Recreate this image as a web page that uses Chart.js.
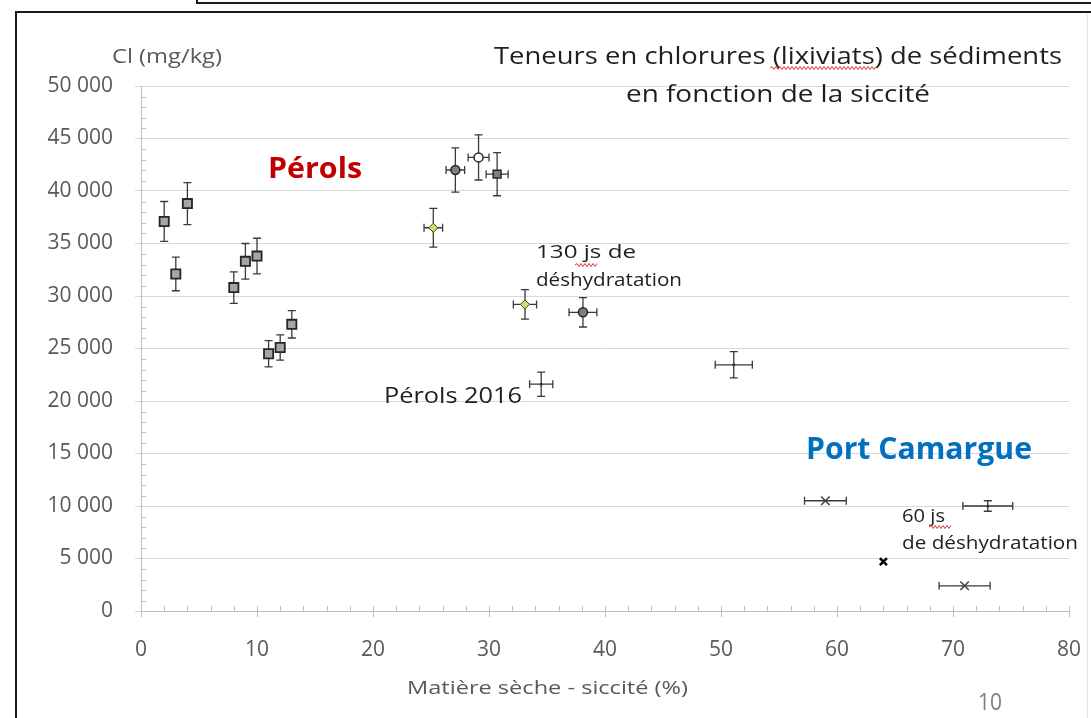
<!DOCTYPE html>
<html>
<head>
<meta charset="utf-8">
<script src="https://cdn.jsdelivr.net/npm/chart.js@4.4.1/dist/chart.umd.min.js"></script>
<style>
  html, body { margin: 0; padding: 0; background: #fff; }
  canvas { display: block; }
</style>
</head>
<body>
<canvas id="chart" width="1091" height="718" style="width:1091px;height:718px"></canvas>
<script>
// ticks
const xTicks = [0, 10, 20, 30, 40, 50, 60, 70, 80];
const yTicks = [0, 5000, 10000, 15000, 20000, 25000, 30000, 35000, 40000, 45000, 50000];

// Pérols (carrés gris)
const perolsX = [2, 3, 4, 8, 9, 10, 11, 12, 13];
const perolsY = [37100, 32100, 38800, 30800, 33300, 33800, 24500, 25100, 27300];
const perolsErrY = [1900, 1600, 2000, 1500, 1700, 1700, 1250, 1200, 1300];

// cercles gris
const circleX = [27.1, 38.1];
const circleY = [42000, 28450];
const circleErrX = [0.8, 1.2];
const circleErrY = [2100, 1400];

// cercle blanc
const whiteX = [29.1];
const whiteY = [43200];
const whiteErrX = [0.9];
const whiteErrY = [2150];

// carré foncé
const darkSqX = [30.7];
const darkSqY = [41600];
const darkSqErrX = [0.95];
const darkSqErrY = [2050];

// losanges jaunes
const diamondX = [25.2, 33.1];
const diamondY = [36500, 29200];
const diamondErrX = [0.8, 1.0];
const diamondErrY = [1850, 1400];

// Pérols 2016 et autres (barres seules)
const plusX = [34.5, 51.1, 73.0];
const plusY = [21600, 23450, 10000];
const plusErrX = [1.0, 1.6, 2.15];
const plusErrY = [1150, 1250, 500];

// Port Camargue (croix)
const crossX = [59, 71];
const crossY = [10500, 2400];
const crossErrX = [1.8, 2.2];
const crossErrY = [0, 0];

const boldCrossX = [64];
const boldCrossY = [4700];

const pts = (xs, ys) => xs.map((x, i) => ({ x: x, y: ys[i] }));
const zeros = n => new Array(n).fill(0);

const fmt = v => String(v).replace(/\B(?=(\d{3})+(?!\d))/g, ' ');

// barres d'erreur
const errorBars = {
    id: 'errorBars',
    beforeDatasetsDraw(chart) {
        const ctx = chart.ctx;
        const xs = chart.scales.x, ys = chart.scales.y;
        ctx.save();
        ctx.strokeStyle = '#3a3a3a';
        ctx.lineWidth = 1.3;
        chart.data.datasets.forEach(ds => {
            ds.data.forEach((p, i) => {
                const px = xs.getPixelForValue(p.x);
                const py = ys.getPixelForValue(p.y);
                const ex = ds.errX ? ds.errX[i] : 0;
                const ey = ds.errY ? ds.errY[i] : 0;
                ctx.beginPath();
                if (ey > 0) {
                    const y1 = ys.getPixelForValue(p.y - ey);
                    const y2 = ys.getPixelForValue(p.y + ey);
                    ctx.moveTo(px, y1); ctx.lineTo(px, y2);
                    ctx.moveTo(px - 4, y1); ctx.lineTo(px + 4, y1);
                    ctx.moveTo(px - 4, y2); ctx.lineTo(px + 4, y2);
                }
                if (ex > 0) {
                    const x1 = xs.getPixelForValue(p.x - ex);
                    const x2 = xs.getPixelForValue(p.x + ex);
                    ctx.moveTo(x1, py); ctx.lineTo(x2, py);
                    ctx.moveTo(x1, py - 4); ctx.lineTo(x1, py + 4);
                    ctx.moveTo(x2, py - 4); ctx.lineTo(x2, py + 4);
                }
                ctx.stroke();
            });
        });
        ctx.restore();
    }
};

// petits traits des axes
const minorTicks = {
    id: 'minorTicks',
    afterDraw(chart) {
        const ctx = chart.ctx;
        const xs = chart.scales.x, ys = chart.scales.y;
        const a = chart.chartArea;
        ctx.save();
        ctx.strokeStyle = '#bfbfbf';
        ctx.lineWidth = 1;
        ctx.beginPath();
        for (let v = 1000; v < 50000; v += 1000) {
            if (v % 5000 === 0) continue;
            const y = Math.round(ys.getPixelForValue(v)) + 0.5;
            ctx.moveTo(a.left, y); ctx.lineTo(a.left + 5, y);
        }
        for (let v = 2; v < 80; v += 2) {
            if (v % 10 === 0) continue;
            const x = Math.round(xs.getPixelForValue(v)) + 0.5;
            ctx.moveTo(x, a.bottom); ctx.lineTo(x, a.bottom - 5);
        }
        xTicks.forEach(v => {
            const x = Math.round(xs.getPixelForValue(v)) + 0.5;
            ctx.moveTo(x, a.bottom); ctx.lineTo(x, a.bottom - 5);
        });
        ctx.stroke();
        ctx.restore();
    }
};

function drawFit(ctx, str, x0, x1, yc, size, weight, color) {
    ctx.save();
    ctx.font = weight + ' ' + size + 'px "Open Sans"';
    ctx.fillStyle = color;
    ctx.textBaseline = 'middle';
    const w = ctx.measureText(str).width;
    ctx.translate(x0, yc);
    ctx.scale((x1 - x0) / w, 1);
    ctx.fillText(str, 0, 0);
    ctx.restore();
}

function wavy(ctx, x0, x1, y) {
    ctx.save();
    ctx.strokeStyle = '#e03030';
    ctx.lineWidth = 1;
    ctx.beginPath();
    ctx.moveTo(x0, y);
    let up = true;
    for (let x = x0 + 2; x <= x1; x += 2) {
        ctx.lineTo(x, y + (up ? -1.5 : 1.5));
        up = !up;
    }
    ctx.stroke();
    ctx.restore();
}

// cadre + textes
const decor = {
    id: 'decor',
    beforeDraw(chart) {
        const ctx = chart.ctx;
        ctx.save();
        ctx.fillStyle = '#fff';
        ctx.fillRect(0, 0, chart.width, chart.height);
        ctx.strokeStyle = '#1a1a1a';
        ctx.lineWidth = 2;
        ctx.beginPath();
        ctx.moveTo(197, 0); ctx.lineTo(197, 3); ctx.lineTo(1091, 3);
        ctx.moveTo(16, 718); ctx.lineTo(16, 12); ctx.lineTo(1091, 12);
        ctx.stroke();
        ctx.strokeStyle = '#e6e6e6';
        ctx.lineWidth = 1;
        ctx.beginPath();
        ctx.moveTo(1087.5, 14); ctx.lineTo(1087.5, 718);
        ctx.stroke();
        ctx.restore();
    },
    afterDraw(chart) {
        const ctx = chart.ctx;
        drawFit(ctx, 'Cl (mg/kg)', 112, 222, 57, 20, 'normal', '#595959');
        drawFit(ctx, 'Teneurs en chlorures (lixiviats) de sédiments', 494, 1062, 57, 23, 'normal', '#1f1f1f');
        drawFit(ctx, 'en fonction de la siccité', 626, 930, 95, 23, 'normal', '#1f1f1f');
        wavy(ctx, 770, 876, 68);
        drawFit(ctx, 'Pérols', 268, 362, 170, 29, 'bold', '#c00000');
        drawFit(ctx, '130 js de', 536, 636, 253, 19, 'normal', '#1f1f1f');
        drawFit(ctx, 'déshydratation', 536, 682, 281, 19, 'normal', '#1f1f1f');
        wavy(ctx, 575, 597, 265);
        drawFit(ctx, 'Pérols 2016', 384, 522, 397, 22, 'normal', '#1f1f1f');
        drawFit(ctx, 'Port Camargue', 806, 1032, 450, 30, 'bold', '#0070c0');
        drawFit(ctx, '60 js', 902, 945, 517, 19, 'normal', '#1f1f1f');
        drawFit(ctx, 'de déshydratation', 902, 1078, 544, 19, 'normal', '#1f1f1f');
        wavy(ctx, 929, 952, 527);
        drawFit(ctx, 'Matière sèche - siccité (%)', 407, 688, 689, 19, 'normal', '#595959');
        drawFit(ctx, '10', 978, 1002, 703, 24, 'normal', '#7f7f7f');
    }
};

const ctx = document.getElementById('chart').getContext('2d');

const chart = new Chart(ctx, {
    type: 'scatter',
    data: {
        datasets: [
            {
                label: 'Pérols',
                data: pts(perolsX, perolsY),
                errX: zeros(perolsX.length),
                errY: perolsErrY,
                pointStyle: 'rect',
                pointRadius: 6.5,
                backgroundColor: '#a6a6a6',
                borderColor: '#262626',
                borderWidth: 1.8
            },
            {
                label: 'cercles',
                data: pts(circleX, circleY),
                errX: circleErrX,
                errY: circleErrY,
                pointStyle: 'circle',
                pointRadius: 4.5,
                backgroundColor: '#7f7f7f',
                borderColor: '#262626',
                borderWidth: 1.5
            },
            {
                label: 'cercle blanc',
                data: pts(whiteX, whiteY),
                errX: whiteErrX,
                errY: whiteErrY,
                pointStyle: 'circle',
                pointRadius: 4.5,
                backgroundColor: '#ffffff',
                borderColor: '#262626',
                borderWidth: 1.5
            },
            {
                label: 'carré foncé',
                data: pts(darkSqX, darkSqY),
                errX: darkSqErrX,
                errY: darkSqErrY,
                pointStyle: 'rect',
                pointRadius: 5.5,
                backgroundColor: '#808080',
                borderColor: '#262626',
                borderWidth: 1.5
            },
            {
                label: 'losanges',
                data: pts(diamondX, diamondY),
                errX: diamondErrX,
                errY: diamondErrY,
                pointStyle: 'rectRot',
                pointRadius: 4.5,
                backgroundColor: '#d7e05a',
                borderColor: '#404040',
                borderWidth: 1
            },
            {
                label: 'barres',
                data: pts(plusX, plusY),
                errX: plusErrX,
                errY: plusErrY,
                pointRadius: 1.5,
                backgroundColor: '#333333',
                borderColor: '#333333',
                borderWidth: 0
            },
            {
                label: 'Port Camargue',
                data: pts(crossX, crossY),
                errX: crossErrX,
                errY: crossErrY,
                pointStyle: 'crossRot',
                pointRadius: 6,
                borderColor: '#404040',
                borderWidth: 1.5
            },
            {
                label: 'Port Camargue 2',
                data: pts(boldCrossX, boldCrossY),
                pointStyle: 'crossRot',
                pointRadius: 5,
                borderColor: '#000000',
                borderWidth: 2.5
            }
        ]
    },
    options: {
        responsive: false,
        animation: false,
        layout: { padding: { top: 86, right: 22, left: 0, bottom: 0 } },
        plugins: {
            legend: { display: false },
            tooltip: { enabled: false }
        },
        scales: {
            x: {
                type: 'linear',
                min: 0,
                max: 80,
                afterBuildTicks: s => { s.ticks = xTicks.map(v => ({ value: v })); },
                afterFit: s => { s.height = 107; s.paddingLeft = 0; s.paddingRight = 0; },
                ticks: {
                    color: '#595959',
                    font: { family: '"Open Sans"', size: 21 },
                    padding: 20
                },
                grid: { drawOnChartArea: false, drawTicks: true, tickLength: 6, color: '#bfbfbf' },
                border: { color: '#bfbfbf' }
            },
            y: {
                min: 0,
                max: 50000,
                afterBuildTicks: s => { s.ticks = yTicks.map(v => ({ value: v })); },
                afterFit: s => { s.width = 141; s.paddingTop = 0; s.paddingBottom = 0; },
                ticks: {
                    color: '#595959',
                    font: { family: '"Open Sans"', size: 21 },
                    padding: 22,
                    callback: v => fmt(v)
                },
                grid: { color: '#d9d9d9', tickLength: 6 },
                border: { color: '#bfbfbf' }
            }
        }
    },
    plugins: [decor, errorBars, minorTicks]
});
</script>
</body>
</html>
